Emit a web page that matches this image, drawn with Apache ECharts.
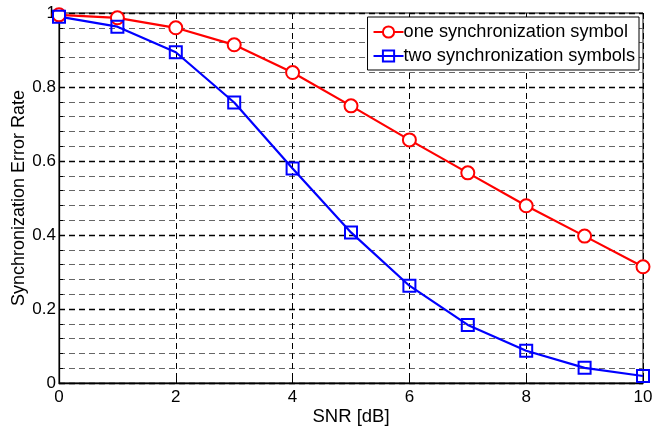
<!DOCTYPE html>
<html><head><meta charset="utf-8">
<script src="https://cdn.jsdelivr.net/npm/echarts@6/dist/echarts.min.js"></script>
<style>html,body{margin:0;padding:0;background:#fff}#c{width:652px;height:427px}</style>
</head><body><div id="c"></div>
<script>
const snr = [0,1,2,3,4,5,6,7,8,9,10];
const oneSym = [0.995,0.987,0.960,0.914,0.839,0.749,0.657,0.568,0.479,0.397,0.314];
const twoSym = [0.99,0.963,0.894,0.758,0.580,0.407,0.263,0.157,0.087,0.041,0.019];
const seriesNames = ['one synchronization symbol','two synchronization symbols'];
const xLabel = 'SNR [dB]';
const yLabel = 'Synchronization Error Rate';
const F = 'Liberation Sans, Arial, sans-serif';
const chart = echarts.init(document.getElementById('c'));
const pair = (ys) => snr.map((x,i)=>[x,ys[i]]);
chart.setOption({
  animation:false,
  backgroundColor:'#fff',
  grid:{left:59,right:9,top:13,bottom:44,show:true,borderColor:'#000',borderWidth:1,outerBoundsMode:'none',containLabel:false},
  legend:{
    orient:'vertical', right:13, top:17, data:seriesNames,
    backgroundColor:'#fff', borderColor:'#000', borderWidth:1,
    padding:[6,4,5,5], itemGap:6, itemWidth:30, itemHeight:14,
    textStyle:{fontFamily:F,fontSize:18.2,color:'#000',padding:[0,0,0,-5]}
  },
  xAxis:{
    type:'value', min:0, max:10, interval:2,
    name:xLabel, nameLocation:'middle', nameGap:24, nameMoveOverlap:false,
    nameTextStyle:{fontFamily:F,fontSize:18.5,color:'#000'},
    axisLine:{lineStyle:{color:'#000',width:1.3}},
    axisTick:{inside:true,length:6,lineStyle:{color:'#000'}},
    axisLabel:{fontFamily:F,fontSize:17,color:'#000',margin:6},
    splitLine:{show:true,lineStyle:{color:'#000',type:[6,4],width:1}}
  },
  yAxis:{
    type:'value', min:0, max:1, interval:0.2,
    name:yLabel, nameLocation:'middle', nameGap:31, nameMoveOverlap:false,
    nameTextStyle:{fontFamily:F,fontSize:18,color:'#000'},
    axisLine:{show:true,lineStyle:{color:'#000',width:1.3}},
    axisTick:{show:true,inside:true,length:6,lineStyle:{color:'#000'}},
    minorTick:{show:true,splitNumber:5,length:4,lineStyle:{color:'#000'}},
    axisLabel:{fontFamily:F,fontSize:17,color:'#000',margin:3,formatter:v=>String(+v.toFixed(1))},
    splitLine:{show:true,lineStyle:{color:'#000',type:[6,4],width:1.3}},
    minorSplitLine:{show:true,lineStyle:{color:'#666',type:[6,4],width:1}}
  },
  series:[
    {name:seriesNames[0],type:'line',data:pair(oneSym),symbol:'emptyCircle',symbolSize:13,
     color:'#ff0000',lineStyle:{color:'#ff0000',width:2.2},
     itemStyle:{color:'#ff0000',borderColor:'#ff0000',borderWidth:2}},
    {name:seriesNames[1],type:'line',data:pair(twoSym),symbol:'rect',symbolSize:12,
     color:'#0000ff',lineStyle:{color:'#0000ff',width:2.2},
     itemStyle:{color:'rgba(255,255,255,0)',borderColor:'#0000ff',borderWidth:2}}
  ]
});
</script></body></html>
